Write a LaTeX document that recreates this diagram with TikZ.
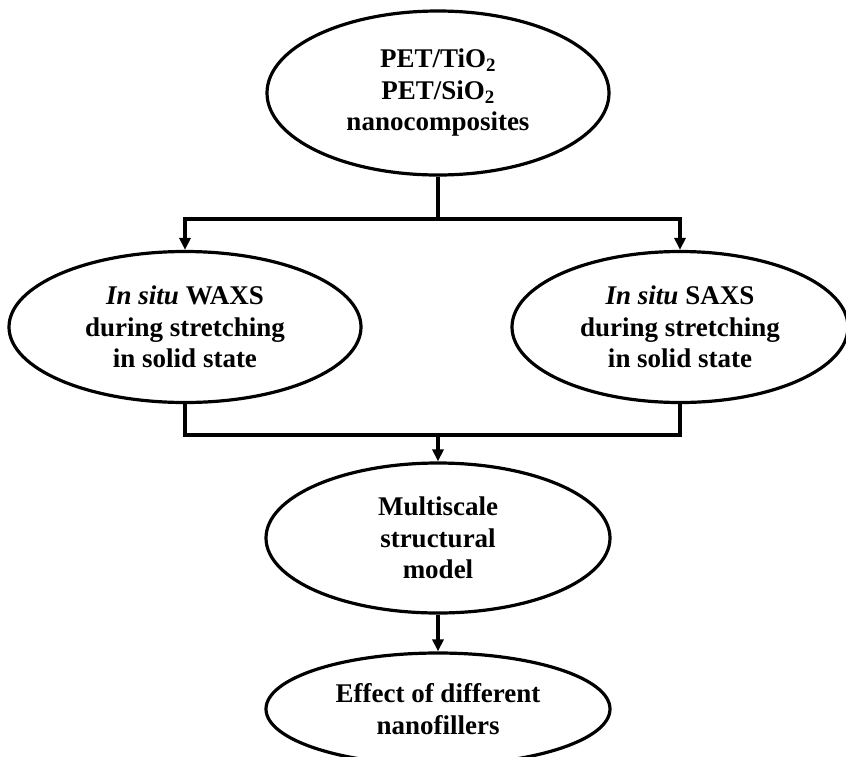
\documentclass[tikz,border=0pt]{standalone}
\usepackage{fontspec}
\setmainfont{Liberation Serif}
\usetikzlibrary{shapes.geometric,arrows.meta}

\begin{document}
\begin{tikzpicture}[x=1pt,y=-1pt,
  line width=3.5pt,
  oval/.style={ellipse,draw,line width=3.2pt,inner sep=0pt,align=center,
    font=\fontsize{27}{31.5}\selectfont\bfseries},
  arr/.style={-{Triangle[length=12pt,width=11pt]}}]
  \useasboundingbox (0,0) rectangle (846,756);
  \clip (0,0) rectangle (846,756);

  % process steps
  \node[oval,minimum width=342pt,minimum height=164pt] (src) at (438,93)
    {PET/TiO\textsubscript{2}\\PET/SiO\textsubscript{2}\\nanocomposites};
  \node[oval,minimum width=352pt,minimum height=151pt] (waxs) at (185,327)
    {\textit{In situ} WAXS\\during stretching\\in solid state};
  \node[oval,minimum width=336pt,minimum height=151pt] (saxs) at (680,327)
    {\textit{In situ} SAXS\\during stretching\\in solid state};
  \node[oval,minimum width=344pt,minimum height=150pt] (model) at (438,538)
    {Multiscale\\structural\\model};
  \node[oval,minimum width=344pt,minimum height=112pt] (effect) at (438,709)
    {Effect of different\\nanofillers};

  % branch and merge points
  \coordinate (split) at (438,219);
  \coordinate (join) at (438,435);

  % connectors
  \draw (src.south) -- (split);
  \draw[arr] (split) -| (waxs.north);
  \draw[arr] (split) -| (saxs.north);
  \draw (waxs.south) |- (join) -| (saxs.south);
  \draw[arr] (join) -- (model.north);
  \draw[arr] (model.south) -- (effect.north);
\end{tikzpicture}
\end{document}
